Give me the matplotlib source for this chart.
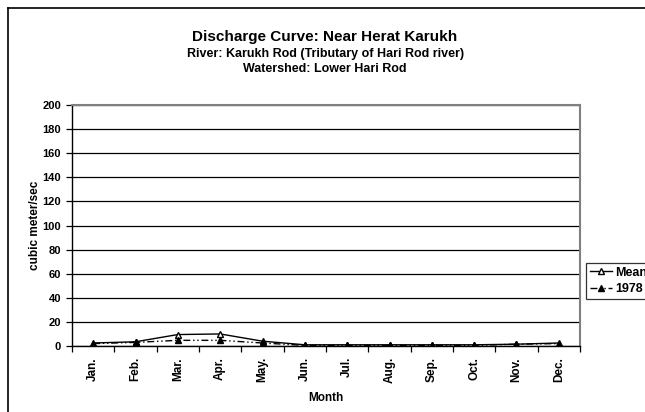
import matplotlib.pyplot as plt
from matplotlib.lines import Line2D
import numpy as np

plt.rcParams['font.family'] = ['Liberation Sans', 'DejaVu Sans']
plt.rcParams['font.weight'] = 'bold'

months = ["Jan.", "Feb.", "Mar.", "Apr.", "May.", "Jun.", "Jul.", "Aug.",
          "Sep.", "Oct.", "Nov.", "Dec."]
mean_flow = [2.5, 3.5, 9.5, 10.0, 4.0, 1.0, 1.0, 1.0, 1.0, 1.0, 1.5, 2.5]
flow_1978 = [2.0, 3.0, 4.7, 4.7, 2.5, 0.5, 0.5, 0.5, 0.5, 0.5, 1.5, 2.0]
yticks = np.arange(0, 201, 20)

fig = plt.figure(figsize=(6.45, 4.12), dpi=100)
ax = fig.add_axes([72/645, 66/412, 508/645, 241/412])

x = np.arange(len(months))
ax.plot(x, mean_flow, color='black', lw=1.0, marker='^', ms=5,
        mfc='white', mec='black', label='Mean')
ax.plot(x, flow_1978, color='black', lw=1.0, ls=(0, (5, 2, 1, 2, 1, 2)),
        marker='^', ms=5, mfc='black', mec='black', label='1978')

ax.set_xlim(-0.5, 11.5)
ax.set_ylim(0, 200)
ax.set_yticks(yticks)
ax.set_yticklabels([str(v) for v in yticks], fontsize=8, fontweight='bold')
ax.yaxis.grid(True, color='black', lw=0.9)
ax.set_axisbelow(True)

ax.set_xticks(x)
ax.set_xticklabels(months, rotation=90, fontsize=8.5, fontweight='bold')
ax.tick_params(axis='x', which='major', length=0, pad=8)
ax.set_xticks(np.arange(-0.5, 12, 1), minor=True)
ax.tick_params(axis='x', which='minor', length=4, width=0.9, direction='out')
ax.tick_params(axis='y', length=4, width=0.9, direction='out', pad=4)

for side in ['top', 'right']:
    ax.spines[side].set_color('#808080')
    ax.spines[side].set_linewidth(1.5)
for side in ['left', 'bottom']:
    ax.spines[side].set_color('black')
    ax.spines[side].set_linewidth(1.0)

ax.set_xlabel('Month', fontsize=8.5, fontweight='bold', labelpad=6)
ax.set_ylabel('cubic meter/sec', fontsize=8.5, fontweight='bold', labelpad=1)

fig.text(0.504, 1 - 37/412, 'Discharge Curve: Near Herat Karukh',
         ha='center', va='center', fontsize=11, fontweight='bold')
fig.text(0.504, 1 - 54/412, 'River: Karukh Rod (Tributary of Hari Rod river)',
         ha='center', va='center', fontsize=9, fontweight='bold')
fig.text(0.504, 1 - 69/412, 'Watershed: Lower Hari Rod',
         ha='center', va='center', fontsize=9, fontweight='bold')

leg = fig.legend(loc='center left', bbox_to_anchor=(586/645, 1 - 281/412),
                 fontsize=9, frameon=True, fancybox=False, handlelength=1.8,
                 handletextpad=0.2, borderpad=0.3, labelspacing=0.4,
                 borderaxespad=0)
leg.get_frame().set_edgecolor('black')
leg.get_frame().set_linewidth(0.9)

# outer chart frame
fig.add_artist(Line2D([8/645, 8/645], [0, 1 - 8/412], color='black', lw=1.2,
                      transform=fig.transFigure))
fig.add_artist(Line2D([8/645, 1], [1 - 8/412, 1 - 8/412], color='black', lw=1.2,
                      transform=fig.transFigure))

fig.savefig('out.png', dpi=100)
plt.close('all')
